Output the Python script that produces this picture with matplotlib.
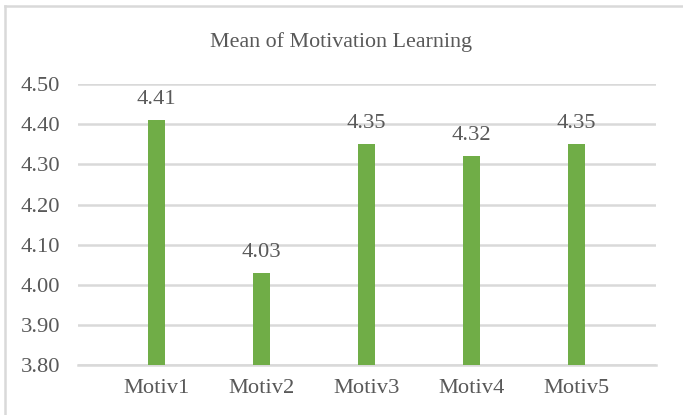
import matplotlib.pyplot as plt
from matplotlib.lines import Line2D

categories = ['Motiv1', 'Motiv2', 'Motiv3', 'Motiv4', 'Motiv5']
means = [4.41, 4.03, 4.35, 4.32, 4.35]
yticks = [3.80, 3.90, 4.00, 4.10, 4.20, 4.30, 4.40, 4.50]

plt.rcParams['font.family'] = ['Liberation Serif', 'DejaVu Serif']
text_color = '#595959'
grid_color = '#D9D9D9'

fig = plt.figure(figsize=(6.83, 4.15), dpi=100)
ax = fig.add_axes([0.1142, 0.1205, 0.8463, 0.6764])

x = list(range(len(categories)))
ax.bar(x, means, width=0.16, color='#70AD47', zorder=3)

for xi, v in zip(x, means):
    ax.annotate(f'{v:.2f}', (xi, v), xytext=(0, 8), textcoords='offset points',
                ha='center', va='bottom', fontsize=16.2, color=text_color)

ax.set_ylim(3.80, 4.50)
ax.set_xlim(-0.75, 4.76)
ax.set_yticks(yticks)
ax.set_yticklabels([f'{t:.2f}' for t in yticks])
ax.set_xticks(x)
ax.set_xticklabels(categories)
ax.yaxis.grid(True, color=grid_color, linewidth=1.8, zorder=0)
ax.tick_params(axis='both', length=0, labelsize=16.2, colors=text_color)
ax.tick_params(axis='y', pad=13)
ax.tick_params(axis='x', pad=10)
for s in ['top', 'right', 'left']:
    ax.spines[s].set_visible(False)
ax.spines['bottom'].set_color(grid_color)
ax.spines['bottom'].set_linewidth(1.8)

fig.text(0.5, 1 - 42 / 415, 'Mean of Motivation Learning', ha='center', va='center',
         fontsize=15.8, color=text_color)

# chart border (only top and left edges are visible in the crop)
fig.add_artist(Line2D([5 / 683, 5 / 683], [0, 1 - 6.5 / 415], transform=fig.transFigure,
                      color=grid_color, linewidth=1.8))
fig.add_artist(Line2D([5 / 683, 1], [1 - 6.5 / 415, 1 - 6.5 / 415], transform=fig.transFigure,
                      color=grid_color, linewidth=1.8))

fig.savefig('out.png', dpi=100)
